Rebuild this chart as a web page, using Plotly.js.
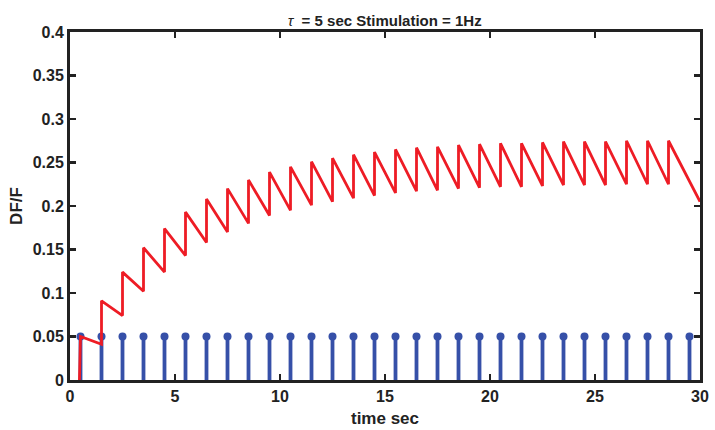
<!DOCTYPE html>
<html>
<head>
<meta charset="utf-8">
<script src="https://cdn.plot.ly/plotly-3.0.1.min.js"></script>
<style>html,body{margin:0;padding:0;background:#fff;}#chart{width:715px;height:430px;}</style>
</head>
<body>
<div id="chart"></div>
<script>
// Stimulation times (sec) and stem amplitude
var stimTimes = [0.5,1.5,2.5,3.5,4.5,5.5,6.5,7.5,8.5,9.5,10.5,11.5,12.5,13.5,14.5,15.5,16.5,17.5,18.5,19.5,20.5,21.5,22.5,23.5,24.5,25.5,26.5,27.5,28.5,29.5];
var stimAmp = [0.05,0.05,0.05,0.05,0.05,0.05,0.05,0.05,0.05,0.05,0.05,0.05,0.05,0.05,0.05,0.05,0.05,0.05,0.05,0.05,0.05,0.05,0.05,0.05,0.05,0.05,0.05,0.05,0.05,0.05];

// DF/F response: peak right after each stimulus, trough just before the next one
var peakTimes = [0.5,1.5,2.5,3.5,4.5,5.5,6.5,7.5,8.5,9.5,10.5,11.5,12.5,13.5,14.5,15.5,16.5,17.5,18.5,19.5,20.5,21.5,22.5,23.5,24.5,25.5,26.5,27.5,28.5];
var peaks =   [0.050,0.091,0.124,0.152,0.174,0.193,0.208,0.220,0.230,0.239,0.245,0.251,0.255,0.259,0.262,0.265,0.267,0.268,0.270,0.271,0.272,0.272,0.273,0.274,0.274,0.274,0.275,0.275,0.275];
var troughs = [0.041,0.074,0.102,0.124,0.143,0.158,0.170,0.180,0.189,0.195,0.201,0.205,0.209,0.212,0.215,0.217,0.218,0.220,0.221,0.222,0.222,0.223,0.224,0.224,0.224,0.225,0.225,0.225];
var startPoint = {t: 0.45, v: 0};
var endPoint = {t: 30, v: 0.205};

// tick labels
var yTicks = [0,0.05,0.1,0.15,0.2,0.25,0.3,0.35,0.4];
var yTickText = ['0','0.05','0.1','0.15','0.2','0.25','0.3','0.35','0.4'];
var xTicks = [0,5,10,15,20,25,30];

// Build response line
var rx = [startPoint.t], ry = [startPoint.v];
for (var i = 0; i < peakTimes.length; i++) {
  if (i > 0) { rx.push(peakTimes[i]); ry.push(troughs[i-1]); }
  rx.push(peakTimes[i]); ry.push(peaks[i]);
}
rx.push(endPoint.t); ry.push(endPoint.v);

// Build stems
var sx = [], sy = [];
for (var j = 0; j < stimTimes.length; j++) {
  sx.push(stimTimes[j], stimTimes[j], null);
  sy.push(0, stimAmp[j], null);
}

var blue = '#3650a8';
var red = '#ee1c25';
var ff = 'Liberation Sans, Arial, sans-serif';

var data = [
  {x: sx, y: sy, mode: 'lines', line: {color: blue, width: 3.8}, hoverinfo: 'skip', showlegend: false},
  {x: stimTimes, y: stimAmp, mode: 'markers', marker: {color: blue, size: 8}, showlegend: false},
  {x: rx, y: ry, mode: 'lines', line: {color: red, width: 2.8}, showlegend: false}
];

var axisCommon = {
  showline: true, linecolor: '#222', linewidth: 3, mirror: 'ticks',
  ticks: 'inside', ticklen: 6, tickwidth: 2.5, tickcolor: '#222',
  showgrid: false, zeroline: false,
  tickfont: {family: ff, size: 16, color: '#222', weight: 'bold'}
};

var layout = {
  width: 715, height: 430,
  margin: {l: 70, r: 15, t: 32, b: 50},
  paper_bgcolor: '#fff', plot_bgcolor: '#fff',
  title: {text: '<i>τ</i> <b> = 5 sec Stimulation = 1Hz</b>', x: 0.538, xanchor: 'center', y: 0.951, yanchor: 'middle',
          font: {family: ff, size: 15, color: '#222'}},
  xaxis: Object.assign({}, axisCommon, {range: [0, 30], tickvals: xTicks, ticktext: xTicks.map(String),
    title: {text: '<b>time sec</b>', standoff: 8, font: {family: ff, size: 17, color: '#222'}}}),
  yaxis: Object.assign({}, axisCommon, {range: [0, 0.4], tickvals: yTicks, ticktext: yTickText,
    title: {text: '<b>DF/F</b>', standoff: 6, font: {family: ff, size: 17, color: '#222'}}})
};

Plotly.newPlot('chart', data, layout, {displayModeBar: false, staticPlot: true});
</script>
</body>
</html>
